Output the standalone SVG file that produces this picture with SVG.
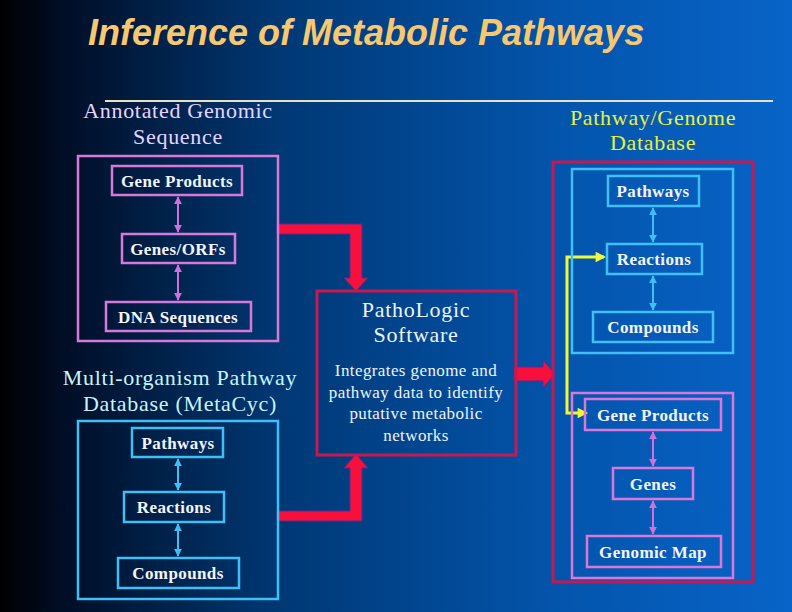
<svg xmlns="http://www.w3.org/2000/svg" width="792" height="612" viewBox="0 0 792 612">
<defs>
<linearGradient id="bg" x1="0" y1="0" x2="1" y2="0">
<stop offset="0" stop-color="#000000"/>
<stop offset="0.08" stop-color="#000e26"/>
<stop offset="0.35" stop-color="#003874"/>
<stop offset="0.7" stop-color="#0354ab"/>
<stop offset="1" stop-color="#0864c8"/>
</linearGradient>
<marker id="hp" viewBox="0 0 10 10" refX="9" refY="5" markerWidth="4" markerHeight="4" orient="auto-start-reverse" markerUnits="strokeWidth"><path d="M0,0 L10,5 L0,10 z" fill="#d070d8"/></marker>
<marker id="hb" viewBox="0 0 10 10" refX="9" refY="5" markerWidth="4" markerHeight="4" orient="auto-start-reverse" markerUnits="strokeWidth"><path d="M0,0 L10,5 L0,10 z" fill="#40bff5"/></marker>
<marker id="hy" viewBox="0 0 10 10" refX="8" refY="5" markerWidth="4" markerHeight="3.5" orient="auto-start-reverse" markerUnits="strokeWidth"><path d="M0,0 L10,5 L0,10 z" fill="#f0f838"/></marker>
<style>
.t{font-family:'Liberation Serif','Tinos','Times New Roman','DejaVu Serif',serif;text-anchor:middle}
.h{font-size:22px;letter-spacing:0.7px}
.d{font-size:17px;letter-spacing:0.4px;fill:#eef2ff}
.lb{font-family:'Liberation Serif','Tinos','Times New Roman','DejaVu Serif',serif;font-weight:bold;font-size:17px;letter-spacing:0.4px;fill:#f4f4ff;text-anchor:middle}
.pk{fill:none;stroke:#d878d8;stroke-width:2.5}
.bl{fill:none;stroke:#40bff5;stroke-width:2.5}
.cr{fill:none;stroke:#c81850;stroke-width:3}
.ap{stroke:#d070d8;stroke-width:2;marker-start:url(#hp);marker-end:url(#hp)}
.ab{stroke:#40bff5;stroke-width:2;marker-start:url(#hb);marker-end:url(#hb)}
.ra{fill:#f8103c;stroke:#5a2a90;stroke-width:1}
.yl{fill:none;stroke:#f0f838;stroke-width:3;marker-start:url(#hy);marker-end:url(#hy)}
</style>
</defs>
<rect width="792" height="612" fill="url(#bg)"/>
<text x="88" y="45" font-family="'Liberation Sans', Arial, sans-serif" font-weight="bold" font-style="italic" font-size="36" fill="#f8c870">Inference of Metabolic Pathways</text>
<line x1="105" y1="101" x2="773" y2="101" stroke="#e8e0c0" stroke-width="2"/>

<g id="heading-annotated">
<text class="t h" x="178" y="118" fill="#e8d4ff">Annotated Genomic</text>
<text class="t h" x="178" y="144" fill="#e8d4ff">Sequence</text>
</g>
<g id="heading-pgdb">
<text class="t h" x="653" y="125" fill="#e8f040">Pathway/Genome</text>
<text class="t h" x="653" y="150" fill="#e8f040">Database</text>
</g>
<g id="heading-metacyc">
<text class="t h" x="180" y="385" fill="#c8f4ff">Multi-organism Pathway</text>
<text class="t h" x="180" y="411" fill="#c8f4ff">Database (MetaCyc)</text>
</g>

<g id="connectors">
<path class="ra" d="M277,224 L362,224 L362,278 L368,278 L356,291 L344,278 L350,278 L350,234 L277,234 Z"/>
<path class="ra" d="M277,521 L362,521 L362,468 L368,468 L356,454 L344,468 L350,468 L350,511 L277,511 Z"/>
<path class="ra" d="M514,367 L543,367 L543,360 L555,374 L543,388 L543,381 L514,381 Z"/>
<path class="yl" d="M604,257 L567,257 L567,413 L586,413"/>
<line class="ap" x1="178" y1="197" x2="178" y2="232"/>
<line class="ap" x1="178" y1="265" x2="178" y2="300"/>
<line class="ab" x1="178" y1="459" x2="178" y2="490"/>
<line class="ab" x1="178" y1="524" x2="178" y2="556"/>
<line class="ab" x1="653" y1="208" x2="653" y2="242"/>
<line class="ab" x1="653" y1="276" x2="653" y2="310"/>
<line class="ap" x1="653" y1="432" x2="653" y2="466"/>
<line class="ap" x1="653" y1="501" x2="653" y2="534"/>
</g>

<g id="annotated-box"><rect class="pk" x="78" y="156" width="200" height="185"/></g>
<g id="gene-products-left"><rect class="pk" x="112" y="166" width="130" height="29"/><text class="lb" x="177" y="187">Gene Products</text></g>
<g id="genes-orfs"><rect class="pk" x="122" y="234" width="113" height="29"/><text class="lb" x="178" y="255">Genes/ORFs</text></g>
<g id="dna-sequences"><rect class="pk" x="106" y="302" width="145" height="29"/><text class="lb" x="178" y="323">DNA Sequences</text></g>

<g id="metacyc-box"><rect class="bl" x="78" y="421" width="200" height="178"/></g>
<g id="pathways-left"><rect class="bl" x="132" y="428" width="91" height="29"/><text class="lb" x="178" y="449">Pathways</text></g>
<g id="reactions-left"><rect class="bl" x="124" y="492" width="100" height="30"/><text class="lb" x="174" y="513">Reactions</text></g>
<g id="compounds-left"><rect class="bl" x="118" y="558" width="121" height="30"/><text class="lb" x="178" y="579">Compounds</text></g>

<g id="pathologic">
<rect class="cr" x="317" y="291" width="199" height="164"/>
<text class="t h" x="416" y="317" fill="#eef2ff">PathoLogic</text>
<text class="t h" x="416" y="342" fill="#eef2ff">Software</text>
<text class="t d" x="416" y="376">Integrates genome and</text>
<text class="t d" x="416" y="398">pathway data to identify</text>
<text class="t d" x="416" y="419">putative metabolic</text>
<text class="t d" x="416" y="441">networks</text>
</g>

<g id="pgdb-box"><rect class="cr" x="553" y="162" width="200" height="420"/></g>
<g id="pgdb-pathway-box"><rect class="bl" x="572" y="169" width="161" height="184"/></g>
<g id="pathways-right"><rect class="bl" x="608" y="176" width="91" height="30"/><text class="lb" x="653" y="197">Pathways</text></g>
<g id="reactions-right"><rect class="bl" x="607" y="244" width="95" height="30"/><text class="lb" x="654" y="265">Reactions</text></g>
<g id="compounds-right"><rect class="bl" x="593" y="312" width="120" height="30"/><text class="lb" x="653" y="333">Compounds</text></g>
<g id="pgdb-genome-box"><rect class="pk" x="572" y="393" width="161" height="185"/></g>
<g id="gene-products-right"><rect class="pk" x="585" y="399" width="136" height="31"/><text class="lb" x="653" y="421">Gene Products</text></g>
<g id="genes-right"><rect class="pk" x="613" y="468" width="80" height="31"/><text class="lb" x="653" y="490">Genes</text></g>
<g id="genomic-map"><rect class="pk" x="587" y="536" width="134" height="31"/><text class="lb" x="653" y="558">Genomic Map</text></g>
</svg>
